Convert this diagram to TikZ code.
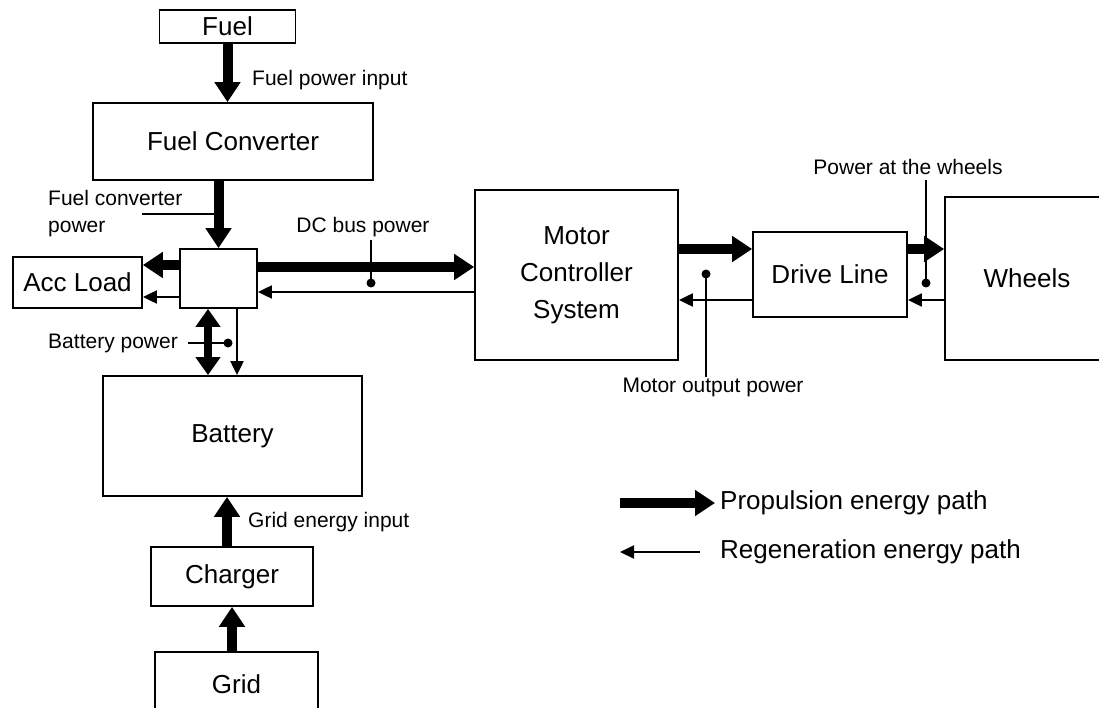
\documentclass[tikz,border=0pt]{standalone}
\usepackage{fontspec}
\setmainfont{Liberation Sans}
\usetikzlibrary{arrows.meta}

\tikzset{
  box/.style={draw, line width=1.8pt, inner sep=0pt, align=center, font=\fontsize{26}{37}\selectfont},
  note/.style={inner sep=0pt, align=left, font=\fontsize{21}{27}\selectfont},
  propel/.style={line width=10pt, -{Triangle[length=20pt,width=25pt]}},
  regen/.style={line width=2pt, -{Triangle[length=14pt,width=13pt]}},
  leader/.style={line width=1.6pt}
}

\begin{document}
\begin{tikzpicture}[x=1pt,y=-1pt]
\useasboundingbox (0,0) rectangle (1099,708);

\node[box,minimum width=136pt,minimum height=33pt] (fuel) at (227.5,26.5) {Fuel};
\node[box,minimum width=280pt,minimum height=77pt] (fc) at (233,141.5) {Fuel Converter};
\node[box,minimum width=77pt,minimum height=59pt] (bus) at (218.5,278.5) {};
\node[box,minimum width=129pt,minimum height=51pt] (acc) at (77.5,282.5) {Acc Load};
\node[box,minimum width=259pt,minimum height=120pt] (bat) at (232.5,436) {Battery};
\node[box,minimum width=162pt,minimum height=59pt] (chg) at (232,576.5) {Charger};
\node[box,minimum width=163pt,minimum height=64pt] (grid) at (236.5,684) {Grid};
\node[box,minimum width=203pt,minimum height=170pt] (mcs) at (576.5,275) {Motor\\Controller\\System};
\node[box,minimum width=154pt,minimum height=85pt] (dl) at (830,274.5) {Drive Line};
\node[box,minimum width=164pt,minimum height=163pt] (whl) at (1027,278.5) {Wheels};

\node[note,anchor=west] (fpi) at (252,80) {Fuel power input};
\node[note,anchor=west] (fcp) at (48,213.5) {Fuel converter\\power};
\node[note] (dcp) at (363,227) {DC bus power};
\node[note,anchor=east] (bp) at (178,343) {Battery power};
\node[note,anchor=west] (gei) at (248,522) {Grid energy input};
\node[note] (mop) at (713,387) {Motor output power};
\node[note] (paw) at (908,167) {Power at the wheels};

\coordinate (fcpd) at (142,214);
\coordinate (dcpd) at (371,283);
\coordinate (bpd) at (228,343);
\coordinate (mopd) at (706,274);
\coordinate (pawd) at (926,283);

\draw[leader] (fcpd) -- (fcpd -| bus.north);
\draw[leader] (dcpd |- 0,240) -- (dcpd);
\fill (dcpd) circle (4.5pt);
\draw[leader] ([xshift=10pt]bp.east) -- (bpd);
\fill (bpd) circle (4.5pt);
\draw[leader] (mopd) -- (mopd |- mop.north);
\fill (mopd) circle (4.5pt);
\draw[leader] (pawd |- 0,180) -- (pawd);
\fill (pawd) circle (4.5pt);

\draw[propel] (fuel.south) -- (fuel.south |- fc.north);
\draw[propel] (bus.north |- fc.south) -- (bus.north);
\draw[propel] ([yshift=13.5pt]bus.west) -- ([yshift=13.5pt]bus.west -| acc.east);
\draw[regen] ([yshift=-18.5pt]bus.west) -- ([yshift=-18.5pt]bus.west -| acc.east);
\draw[propel] ([yshift=11.5pt]bus.east) -- ([yshift=11.5pt]bus.east -| mcs.west);
\draw[regen] ([yshift=-13.5pt]bus.east -| mcs.west) -- ([yshift=-13.5pt]bus.east);
\draw[line width=8pt, {Triangle[length=18pt,width=24pt]}-{Triangle[length=18pt,width=24pt]}]
  ([xshift=-10.5pt]bus.south) -- ([xshift=-10.5pt]bus.south |- bat.north);
\draw[regen] ([xshift=18.5pt]bus.south) -- ([xshift=18.5pt]bus.south |- bat.north);
\draw[propel] ([xshift=-5pt]chg.north) -- ([xshift=-5pt]chg.north |- bat.south);
\draw[propel] (chg.south |- grid.north) -- (chg.south);
\draw[propel] ([yshift=26pt]mcs.east) -- ([yshift=26pt]mcs.east -| dl.west);
\draw[regen] ([yshift=-25pt]mcs.east -| dl.west) -- ([yshift=-25pt]mcs.east);
\draw[propel] ([yshift=25.5pt]dl.east) -- ([yshift=25.5pt]dl.east -| whl.west);
\draw[regen] ([yshift=-25.5pt]dl.east -| whl.west) -- ([yshift=-25.5pt]dl.east);

\node[anchor=west,inner sep=0pt,font=\fontsize{26}{31}\selectfont] (lp) at (720,503) {Propulsion energy path};
\node[anchor=west,inner sep=0pt,font=\fontsize{26}{31}\selectfont] (lr) at (720,552) {Regeneration energy path};
\draw[propel] ([xshift=-100pt]lp.west) -- ([xshift=-5pt]lp.west);
\draw[regen] ([xshift=-20pt]lr.west) -- ([xshift=-100pt]lr.west);
\end{tikzpicture}
\end{document}
